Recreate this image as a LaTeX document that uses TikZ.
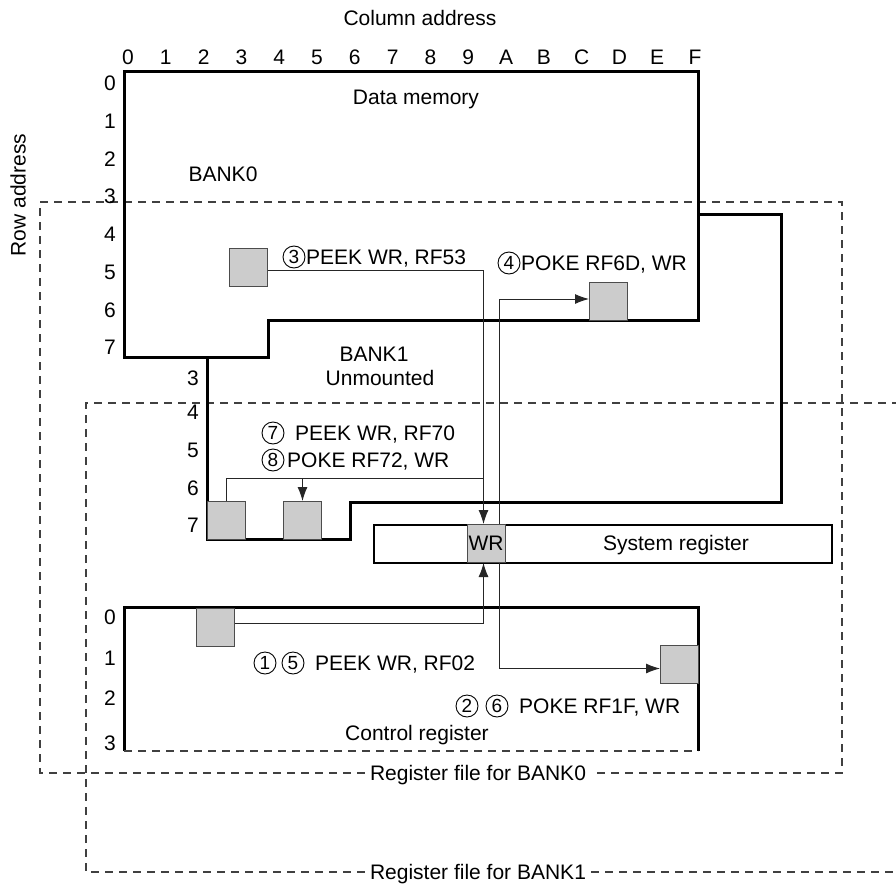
\documentclass[tikz,border=0pt]{standalone}
\usepackage{fontspec}
\setmainfont{Liberation Sans}
\usetikzlibrary{arrows.meta}
\begin{document}
\begin{tikzpicture}[x=1pt,y=-1pt,
  lbl/.style={font=\fontsize{21}{25}\selectfont, inner sep=0pt, text height=15pt, text depth=0pt},
  outline/.style={line width=3pt, line join=miter, draw=black},
  regbox/.style={draw=black!70, fill=black!20, line width=1pt, minimum width=38pt, minimum height=38pt, inner sep=0pt, anchor=north west},
  sysbox/.style={draw=black, line width=2.2pt, minimum width=458pt, minimum height=38pt, inner sep=0pt, anchor=north west},
  conn/.style={line width=1pt, draw=black!85},
  arr/.style={-{Latex[length=14pt,width=10pt]}},
  dsh/.style={draw=black!75, line width=1.3pt, dash pattern=on 8pt off 6pt},
  circ/.style={circle, draw=black, line width=0.9pt, inner sep=0pt, minimum size=22pt, font=\fontsize{19}{22}\selectfont, text height=13.5pt, text depth=0pt}]

\useasboundingbox (0,0) rectangle (896,883);

% ---------- dashed register-file frames ----------
\node[lbl, inner xsep=5pt] (rf1) at (478,872) {Register file for BANK1};
\draw[dsh] (rf1.west) -- (86,872) -- (86,403) -- (896,403);
\draw[dsh] (rf1.east) -- (896,872);

\node[lbl, inner xsep=5pt] (rf0) at (478,773) {Register file for BANK0};
\draw[dsh] (rf0.west) -- (40,773) -- (40,202) -- (842,202) -- (842,773) -- (rf0.east);

% ---------- titles ----------
\node[lbl] (coltitle) at (420,18) {Column address};
\node[lbl, rotate=90] (rowtitle) at (18,195) {Row address};

% column numbers
\foreach \c [count=\i from 0] in {0,1,2,3,4,5,6,7,8,9,A,B,C,D,E,F}{
  \node[lbl] (col\c) at (128+37.8*\i,57) {\c};
}
% row numbers BANK0
\foreach \r in {0,...,7}{
  \node[lbl] (rowa\r) at (110,83+37.75*\r) {\r};
}
% row numbers BANK1
\node[lbl] (rowb3) at (193,378) {3};
\node[lbl] (rowb4) at (193,412) {4};
\node[lbl] (rowb5) at (193,450) {5};
\node[lbl] (rowb6) at (193,488) {6};
\node[lbl] (rowb7) at (193,525) {7};
% row numbers control register
\node[lbl] (rowc0) at (110,617) {0};
\node[lbl] (rowc1) at (110,658) {1};
\node[lbl] (rowc2) at (110,698) {2};
\node[lbl] (rowc3) at (110,743) {3};

% ---------- memory outlines ----------
\draw[outline] (124,71) -- (698,71) -- (698,320) -- (268,320) -- (268,357) -- (124,357) -- cycle;
\draw[outline] (698,214) -- (781,214) -- (781,502) -- (350,502) -- (350,539) -- (207,539) -- (207,357);
\draw[outline] (124,751) -- (124,607) -- (698,607) -- (698,751);
\draw[dsh] (124,751) -- (698,751);

\node[lbl] (dm) at (416,97) {Data memory};
\node[lbl] (bank0) at (223,174) {BANK0};
\node[lbl] (bank1) at (374,354) {BANK1};
\node[lbl] (unm) at (380,378) {Unmounted};
\node[lbl] (ctrl) at (417,733) {Control register};

% ---------- system register ----------
\node[sysbox] (sys) at (373,524) {};
\node[lbl] (systxt) at (676,543) {System register};

% ---------- connectors ----------
\node[regbox] (wr) at (467,524) {};
\node[regbox] (ra) at (229,248) {};
\node[regbox] (rb) at (589,282) {};
\node[regbox] (rc) at (207,501) {};
\node[regbox] (rd) at (283,501) {};
\node[regbox] (c1) at (196,608) {};
\node[regbox] (c2) at (660,645) {};

\coordinate (j1) at (483,478);
\draw[conn,arr] ([yshift=-3pt]ra.east) -| ([xshift=-3pt]wr.north);
\draw[conn] (rc.north) |- (j1);
\draw[conn,arr] (rd.north |- j1) -- (rd.north);
\draw[conn,arr] ([yshift=4pt]c1.east) -| ([xshift=-3pt]wr.south);
\draw[conn,arr] ([xshift=13pt]wr.north) |- ([yshift=2.5pt]rb.west);
\draw[conn,arr] ([xshift=13pt]wr.south) |- ([yshift=-4pt]c2.west);

% redraw WR box on top
\node[regbox] at (467,524) {};
\node[lbl] (wrtxt) at (486,543) {WR};

% ---------- instruction labels ----------
\node[circ] (n3) at (294,257) {3};
\node[lbl, anchor=west] (t3) at (306,257) {PEEK WR, RF53};
\node[circ] (n4) at (509,263) {4};
\node[lbl, anchor=west] (t4) at (521,263) {POKE RF6D, WR};
\node[circ] (n7) at (273,433) {7};
\node[lbl, anchor=west] (t7) at (295,433) {PEEK WR, RF70};
\node[circ] (n8) at (273,460) {8};
\node[lbl, anchor=west] (t8) at (287,460) {POKE RF72, WR};
\node[circ] (n1) at (265,663) {1};
\node[circ] (n5) at (293,663) {5};
\node[lbl, anchor=west] (t15) at (315,663) {PEEK WR, RF02};
\node[circ] (n2) at (467,706) {2};
\node[circ] (n6) at (497,706) {6};
\node[lbl, anchor=west] (t26) at (519,706) {POKE RF1F, WR};
\end{tikzpicture}
\end{document}
